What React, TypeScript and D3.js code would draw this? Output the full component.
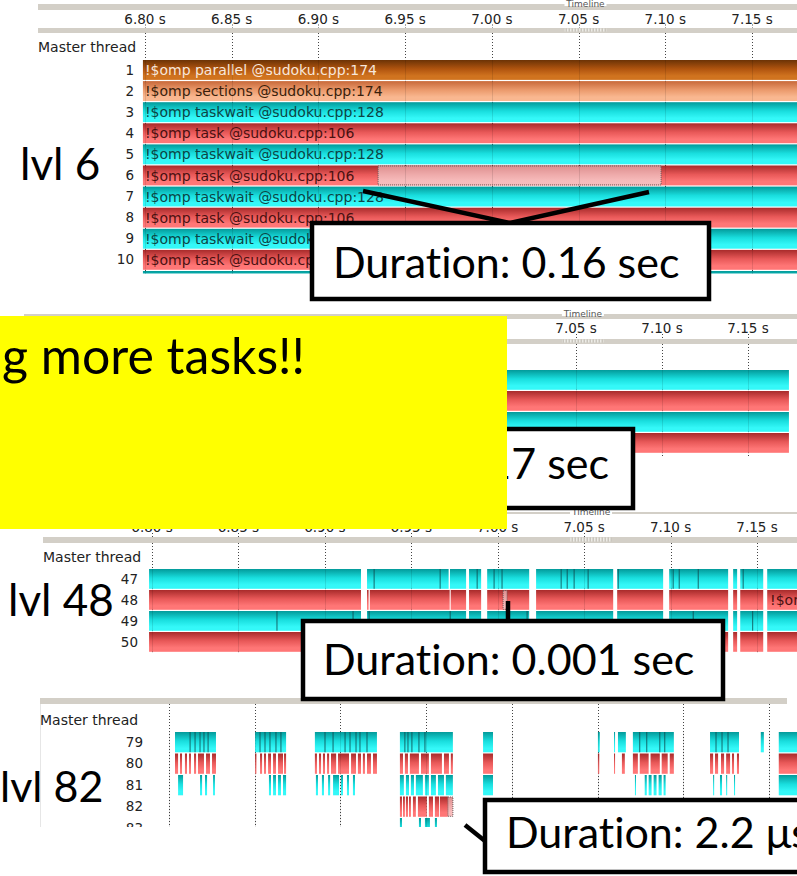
import React from "react";
import * as d3 from "d3";

const W = 797;
const H = 876;

// ---------- shared axis data (ms after 6.80 s) ----------
const tickMs = [0, 50, 100, 150, 200, 250, 300, 350];
const tickLabels = ["6.80 s", "6.85 s", "6.90 s", "6.95 s", "7.00 s", "7.05 s", "7.10 s", "7.15 s"];
const viewportMarkerMs = [242, 266];

// ---------- lvl 6 ----------
const lvl6Rows = ["1", "2", "3", "4", "5", "6", "7", "8", "9", "10", "11"];
const lvl6Kinds = ["parallel", "sections", "taskwait", "task", "taskwait", "task", "taskwait", "task", "taskwait", "task", "taskwait"];
const lvl6Regions = [
  "!$omp parallel @sudoku.cpp:174",
  "!$omp sections @sudoku.cpp:174",
  "!$omp taskwait @sudoku.cpp:128",
  "!$omp task @sudoku.cpp:106",
  "!$omp taskwait @sudoku.cpp:128",
  "!$omp task @sudoku.cpp:106",
  "!$omp taskwait @sudoku.cpp:128",
  "!$omp task @sudoku.cpp:106",
  "!$omp taskwait @sudoku.cpp:128",
  "!$omp task @sudoku.cpp:106",
  "!$omp taskwait @sudoku.cpp:128",
];
const lvl6SpanMs = [-1.2, 380];
const lvl6SelectedRow = 5;
const lvl6SelectedMs = [134.4, 297.6];

// ---------- hidden middle level ----------
const midRows = ["", "", "", ""];
const midKinds = ["taskwait", "task", "taskwait", "task"];
const midSpanMs = [-1.5, 373.8];

// ---------- lvl 48 ----------
const lvl48Rows = ["47", "48", "49", "50"];
const lvl48Kinds = ["taskwait", "task", "taskwait", "task"];
const lvl48SpanMs = [-1.7, 380];
const lvl48GapsMs = [
  [120.9, 124.4], [181.7, 183.4], [190.4, 193.9], [218.2, 222.2], [266.8, 269.1],
  [295.7, 299.2], [333.3, 336.2], [338.5, 340.3], [353.6, 355.9],
];
const lvl48RowGapsMs = [[[171.6, 172.4]], [[125.3, 126.0], [172.2, 172.8]], [], []];
const lvl48BoundariesMs = [
  [128.5, 166.7, 188.1, 197.9, 202.5, 236.7, 240.2, 244.2, 252.3, 269.7, 301.5, 305.0, 316.0, 342.0],
  [],
  [72.3, 116.3, 125.6, 172.5, 217.0, 313.1, 347.5],
  [],
];
const lvl48SelectedRow = 1;
const lvl48SelectedMs = [203.1, 205.4];
const lvl48LabelRow = 1;
const lvl48LabelMs = 356.4;
const lvl48LabelText = "!$omp task @sudoku.cpp:106";

// ---------- lvl 82 ----------
const lvl82Rows = ["79", "80", "81", "82", "83"];
const lvl82Kinds = ["taskwait", "task", "taskwait", "task", "taskwait"];
const lvl82Segments = [
  [[3.5, 27.4], [50.2, 68.3], [85.1, 121.3], [134.7, 165.6], [183.2, 189.0], [250.2, 251.3], [259.6, 260.2],
   [261.9, 266.5], [270.6, 294.5], [315.6, 332.5], [345.2, 347.0], [355.7, 368]],
  [[3.5, 5.3], [6.4, 7.6], [9.3, 10.5], [11.7, 12.8], [14.6, 15.8], [16.9, 20.4], [21.6, 23.9], [25.1, 27.4],
   [50.2, 51.0], [53.1, 54.3], [55.4, 56.6], [57.8, 59.5], [60.7, 62.4], [63.6, 66.5], [67.1, 68.3],
   [85.1, 86.3], [87.5, 88.7], [89.8, 91.0], [92.2, 93.4], [94.5, 97.5], [98.6, 105.0], [106.2, 109.1],
   [110.2, 112.0], [113.1, 114.3], [115.5, 117.8], [119.0, 121.3],
   [134.7, 136.5], [137.6, 139.4], [140.5, 145.8], [147.0, 151.6], [152.8, 159.2], [160.4, 163.3], [164.4, 165.6],
   [183.2, 189.0],
   [250.2, 251.0], [259.6, 260.2], [264.2, 265.9], [270.6, 273.5], [274.6, 279.8], [280.9, 286.3], [287.4, 290.9], [292.1, 294.5],
   [315.6, 317.4], [318.5, 320.3], [322.0, 323.8], [325.0, 327.3], [328.4, 329.6], [331.3, 332.5], [355.7, 368]],
  [[5.3, 8.2], [18.1, 19.3], [21.0, 22.2], [25.7, 26.8],
   [58.3, 59.5], [60.7, 62.4], [63.6, 65.3], [66.5, 68.3],
   [85.7, 86.9], [89.2, 90.4], [92.8, 94.0], [95.7, 99.2], [100.3, 101.5], [103.8, 105.0], [107.3, 108.5],
   [134.7, 137.0], [138.2, 140.0], [141.1, 142.9], [144.0, 148.1], [149.3, 151.6], [152.8, 155.7], [156.9, 160.4], [161.5, 165.6],
   [183.2, 189.0],
   [271.8, 272.4], [277.5, 278.7], [279.8, 281.5], [282.7, 284.4], [285.6, 287.4], [288.5, 289.7],
   [317.4, 318.0], [321.4, 322.6], [325.0, 325.6], [329.6, 330.2], [355.7, 368]],
  [[134.7, 135.9], [136.5, 137.6], [138.2, 139.4], [140.0, 141.1], [142.3, 144.0], [145.2, 150.4], [151.6, 154.0],
   [155.1, 157.5], [158.0, 162.7]],
  [[134.7, 135.9], [145.8, 147.0], [149.3, 152.2], [155.1, 156.3]],
];
const lvl82BoundariesMs = [
  [12.3, 15.2, 18.1, 20.4, 22.8, 53.1, 56.0, 58.9, 62.4, 65.3, 91.0, 95.7, 102.7, 105.6, 109.1, 111.4, 115.5,
   137.6, 139.4, 141.7, 145.8, 149.3, 274.6, 278.7, 286.3, 289.2, 319.1, 322.6, 326.1],
  [], [], [], [],
];
const lvl82SelectedRow = 3;
const lvl82SelectedMs = [162.7, 165.6];

// ---------- slide annotations ----------
const levelLabels = ["lvl 6", "lvl 48", "lvl 82"];
const durationTexts = ["Duration: 0.16 sec", "Duration: 0.17 sec", "Duration: 0.001 sec", "Duration: 2.2 μs"];
const bannerText = "g more tasks!!";

// ---------- styles ----------
const FONT_UI = "'DejaVu Sans', sans-serif";
const FONT_SLIDE = "Lato, 'Open Sans', sans-serif";
const GRAY = "#d3cfc7";
const NO_LIGA = { fontVariantLigatures: "none" as const };
const KIND_FILL: Record<string, string[]> = {
  parallel: ["#6c3306", "#b0540f", "#d0731f"],
  sections: ["#c8693a", "#eb9a6c", "#f9b790"],
  taskwait: ["#039a9a", "#19dede", "#34f8f8"],
  task: ["#a82b2b", "#e85858", "#ff7676"],
  selected: ["#dd9090", "#eeaaaa", "#f7bcbc"],
};
const KIND_TEXT: Record<string, string> = {
  parallel: "#f7e7dc",
  sections: "#3a1f0c",
  taskwait: "#0c4545",
  task: "#4a1111",
};
const KIND_LINE: Record<string, string> = {
  taskwait: "rgba(15,70,75,0.8)",
  task: "rgba(100,25,25,0.55)",
  parallel: "rgba(0,0,0,0.3)",
  sections: "rgba(0,0,0,0.3)",
};

function complement(span: number[], gaps: number[][]): number[][] {
  const sorted = gaps.slice().sort((a, b) => a[0] - b[0]);
  const out: number[][] = [];
  let cur = span[0];
  for (const [a, b] of sorted) {
    if (a > cur) out.push([cur, Math.min(a, span[1])]);
    cur = Math.max(cur, b);
  }
  if (cur < span[1]) out.push([cur, span[1]]);
  return out;
}

type PanelProps = {
  id: string;
  x: d3.ScaleLinear<number, number>;
  left: number;
  barRight: number;
  clipTop: number;
  clipBottom: number;
  topBarY: number;
  topBarH: number;
  tickLabelY: number | null;
  tickLabelMinX?: number;
  bottomBarY: number | null;
  bottomBarH: number;
  masterY: number | null;
  rowsTop: number;
  pitch: number;
  rowIds: string[];
  kinds: string[];
  segments: number[][][];
  boundaries?: number[][];
  regionLabels?: { row: number; ms: number; text: string }[];
  selected?: { row: number; ms: number[] };
  labelRight: number;
  gridTop: number;
  frame?: boolean;
};

function Panel(p: PanelProps) {
  const { x } = p;
  const clipId = `clip-${p.id}`;
  const legendX = x(d3.mean(viewportMarkerMs) as number);
  const rowsBottom = p.rowsTop + p.rowIds.length * p.pitch;
  const h = p.pitch - 1.2;
  const minX = p.tickLabelMinX ?? 0;
  return (
    <g>
      <defs>
        <clipPath id={clipId}>
          <rect x={p.left} y={p.clipTop} width={W - p.left} height={p.clipBottom - p.clipTop} />
        </clipPath>
      </defs>
      <g clipPath={`url(#${clipId})`}>
        {p.frame && (
          <line x1={p.left + 0.5} x2={p.left + 0.5} y1={p.topBarY} y2={p.clipBottom} stroke="#e6e6e6" strokeWidth={1} />
        )}
        {/* top bar with legend */}
        <rect x={p.left} y={p.topBarY} width={p.barRight - p.left} height={p.topBarH} fill={GRAY} />
        <rect x={legendX - 21} y={p.topBarY - 5} width={42} height={p.topBarH > 3 ? 7 : 8} fill="#fff" />
        <text x={legendX} y={p.topBarY + 3} textAnchor="middle" fontFamily={FONT_UI} fontSize={9} fill="#555">
          Timeline
        </text>
        {/* tick labels */}
        {p.tickLabelY !== null &&
          tickMs
            .map((t, i) => ({ t, label: tickLabels[i] }))
            .filter((d) => x(d.t) > minX)
            .map((d) => (
              <text key={d.t} x={x(d.t)} y={p.tickLabelY as number} textAnchor="middle" fontFamily={FONT_UI} fontSize={13.5} fill="#222">
                {d.label}
              </text>
            ))}
        {/* bottom bar + viewport marker */}
        {p.bottomBarY !== null && (
          <g>
            <rect x={p.left} y={p.bottomBarY} width={p.barRight - p.left} height={p.bottomBarH} fill={GRAY} />
            <rect
              x={x(viewportMarkerMs[0])}
              y={p.bottomBarY + 0.5}
              width={x(viewportMarkerMs[1]) - x(viewportMarkerMs[0])}
              height={Math.max(1, p.bottomBarH - 2)}
              fill="url(#hatch)"
            />
          </g>
        )}
        {p.masterY !== null && (
          <text x={p.left} y={p.masterY} fontFamily={FONT_UI} fontSize={14} fill="#222">
            Master thread
          </text>
        )}
        {/* dotted grid */}
        {tickMs.map((t) => (
          <line
            key={t}
            x1={Math.round(x(t)) + 0.5}
            x2={Math.round(x(t)) + 0.5}
            y1={p.gridTop}
            y2={p.clipBottom}
            stroke="#444"
            strokeWidth={1}
            strokeDasharray="1,2"
          />
        ))}
        {p.tickLabelY !== null && p.bottomBarY !== null &&
          tickMs.map((t) => (
            <line
              key={`s${t}`}
              x1={Math.round(x(t)) + 0.5}
              x2={Math.round(x(t)) + 0.5}
              y1={(p.tickLabelY as number) + 1}
              y2={p.bottomBarY as number}
              stroke="#444"
              strokeWidth={1}
              strokeDasharray="1,2"
            />
          ))}
        {/* rows */}
        {p.rowIds.map((id, i) => {
          const top = p.rowsTop + i * p.pitch;
          const kind = p.kinds[i];
          return (
            <g key={`r${i}`}>
              {id && (
                <text x={p.labelRight} y={top + 14.5} textAnchor="end" fontFamily={FONT_UI} fontSize={13.5} fill="#222">
                  {id}
                </text>
              )}
              {p.segments[i].map(([a, b], j) => (
                <rect
                  key={j}
                  x={x(a)}
                  y={top}
                  width={Math.max(0.9, x(b) - x(a))}
                  height={h}
                  fill={`url(#grad-${kind})`}
                />
              ))}
              {(p.boundaries?.[i] ?? []).map((t, j) => (
                <line key={`b${j}`} x1={x(t)} x2={x(t)} y1={top} y2={top + h} stroke={KIND_LINE[kind]} strokeWidth={1} />
              ))}
              {p.selected && p.selected.row === i && (
                <rect
                  x={x(p.selected.ms[0])}
                  y={top + 0.5}
                  width={x(p.selected.ms[1]) - x(p.selected.ms[0])}
                  height={h - 1}
                  fill="url(#grad-selected)"
                  stroke="#6a5a5a"
                  strokeWidth={1}
                  strokeDasharray="1,1"
                />
              )}
              {(p.regionLabels ?? [])
                .filter((r) => r.row === i)
                .map((r, j) => (
                  <text
                    key={`t${j}`}
                    x={x(r.ms) + 2}
                    y={top + 15}
                    fontFamily={FONT_UI}
                    fontSize={14}
                    fill={KIND_TEXT[kind]}
                  >
                    {r.text}
                  </text>
                ))}
            </g>
          );
        })}
        {/* faint grid over bars */}
        {tickMs.map((t) => (
          <line
            key={`f${t}`}
            x1={Math.round(x(t)) + 0.5}
            x2={Math.round(x(t)) + 0.5}
            y1={p.rowsTop}
            y2={Math.min(rowsBottom, p.clipBottom)}
            stroke="rgba(0,0,0,0.10)"
            strokeWidth={1}
          />
        ))}
      </g>
    </g>
  );
}

export default function App() {
  const x1 = d3.scaleLinear().domain([0, 350]).range([145, 752]);
  const x2 = d3.scaleLinear().domain([0, 350]).range([146, 748]);
  const x3 = d3.scaleLinear().domain([0, 350]).range([152, 757]);
  const x4 = d3.scaleLinear().domain([0, 350]).range([169, 769]);

  const lvl6Segments = lvl6Rows.map(() => [lvl6SpanMs]);
  const midSegments = midRows.map(() => [midSpanMs]);
  const lvl48Segments = lvl48Rows.map((_, i) => complement(lvl48SpanMs, lvl48GapsMs.concat(lvl48RowGapsMs[i])));

  const calloutStroke = 4.5;
  const calloutFont = 43;

  return (
    <svg
      width={W}
      height={H}
      viewBox={`0 0 ${W} ${H}`}
      style={{ position: "absolute", left: 0, top: 0, background: "#fff" }}
    >
      <defs>
        {Object.entries(KIND_FILL).map(([k, c]) => (
          <linearGradient key={k} id={`grad-${k}`} x1="0" y1="0" x2="0" y2="1">
            <stop offset="0" stopColor={c[0]} />
            <stop offset="0.45" stopColor={c[1]} />
            <stop offset="0.8" stopColor={c[2]} />
            <stop offset="1" stopColor={c[2]} />
          </linearGradient>
        ))}
        <pattern id="hatch" width="3" height="4" patternUnits="userSpaceOnUse">
          <rect width="3" height="4" fill="#c9c5bd" />
          <rect width="1.5" height="4" fill="#ecebe6" />
        </pattern>
      </defs>
      <rect x={0} y={0} width={W} height={H} fill="#fff" />

      {/* lvl 6 */}
      <Panel
        id="p1"
        x={x1}
        left={38}
        barRight={W}
        clipTop={0}
        clipBottom={273.5}
        topBarY={4}
        topBarH={6}
        tickLabelY={23.5}
        bottomBarY={28}
        bottomBarH={5}
        masterY={52}
        rowsTop={60}
        pitch={21.1}
        rowIds={lvl6Rows}
        kinds={lvl6Kinds}
        segments={lvl6Segments}
        regionLabels={lvl6Regions.map((t, i) => ({ row: i, ms: lvl6SpanMs[0], text: t }))}
        selected={{ row: lvl6SelectedRow, ms: lvl6SelectedMs }}
        labelRight={134}
        gridTop={33}
      />

      {/* hidden middle level */}
      <Panel
        id="p2"
        x={x2}
        left={24}
        barRight={W}
        clipTop={305}
        clipBottom={456}
        topBarY={314}
        topBarH={5}
        tickLabelY={333}
        tickLabelMinX={520}
        bottomBarY={339}
        bottomBarH={5}
        masterY={null}
        rowsTop={370}
        pitch={21}
        rowIds={midRows}
        kinds={midKinds}
        segments={midSegments}
        labelRight={134}
        gridTop={344}
      />

      {/* lvl 48 */}
      <Panel
        id="p3"
        x={x3}
        left={43}
        barRight={W}
        clipTop={505}
        clipBottom={654}
        topBarY={512}
        topBarH={2}
        tickLabelY={532}
        bottomBarY={537}
        bottomBarH={6}
        masterY={562}
        rowsTop={569}
        pitch={21}
        rowIds={lvl48Rows}
        kinds={lvl48Kinds}
        segments={lvl48Segments}
        boundaries={lvl48BoundariesMs}
        regionLabels={[{ row: lvl48LabelRow, ms: lvl48LabelMs, text: lvl48LabelText }]}
        selected={{ row: lvl48SelectedRow, ms: lvl48SelectedMs }}
        labelRight={138}
        gridTop={543}
      />

      {/* lvl 82 */}
      <Panel
        id="p4"
        x={x4}
        left={40}
        barRight={787}
        clipTop={690}
        clipBottom={827}
        topBarY={698}
        topBarH={6}
        tickLabelY={null}
        bottomBarY={null}
        bottomBarH={0}
        masterY={725}
        rowsTop={732}
        pitch={21.5}
        rowIds={lvl82Rows}
        kinds={lvl82Kinds}
        segments={lvl82Segments}
        boundaries={lvl82BoundariesMs}
        selected={{ row: lvl82SelectedRow, ms: lvl82SelectedMs }}
        labelRight={143}
        gridTop={704}
        frame
      />

      {/* level labels */}
      <text x={20} y={180} fontFamily={FONT_SLIDE} fontSize={44} fill="#000">{levelLabels[0]}</text>
      <text x={8} y={616} fontFamily={FONT_SLIDE} fontSize={44} fill="#000">{levelLabels[1]}</text>
      <text x={0} y={802} fontFamily={FONT_SLIDE} fontSize={43} fill="#000">{levelLabels[2]}</text>

      {/* callout 1 */}
      <polyline points="363,191 510,223 649,192" fill="none" stroke="#000" strokeWidth={calloutStroke} />
      <rect x={312} y={223} width={397} height={76} fill="#fff" stroke="#000" strokeWidth={calloutStroke} />
      <text x={333} y={278} fontFamily={FONT_SLIDE} fontSize={calloutFont} fill="#000" style={NO_LIGA}>{durationTexts[0]}</text>

      {/* callout 2 (mostly hidden) */}
      <rect x={200} y={429} width={433} height={79} fill="#fff" stroke="#000" strokeWidth={calloutStroke} />
      <text x={609} y={479} textAnchor="end" fontFamily={FONT_SLIDE} fontSize={calloutFont} fill="#000" style={NO_LIGA}>{durationTexts[1]}</text>

      {/* callout 3 */}
      <line x1={508} x2={508} y1={601} y2={622} stroke="#000" strokeWidth={calloutStroke} />
      <rect x={303} y={621} width={420} height={78} fill="#fff" stroke="#000" strokeWidth={calloutStroke} />
      <text x={323} y={675} fontFamily={FONT_SLIDE} fontSize={calloutFont} fill="#000" style={NO_LIGA}>{durationTexts[2]}</text>

      {/* callout 4 */}
      <line x1={465} y1={825} x2={485} y2={841} stroke="#000" strokeWidth={calloutStroke} />
      <rect x={485} y={800} width={340} height={72} fill="#fff" stroke="#000" strokeWidth={calloutStroke} />
      <text x={506} y={848} fontFamily={FONT_SLIDE} fontSize={calloutFont} fill="#000" style={NO_LIGA}>{durationTexts[3]}</text>

      {/* yellow banner */}
      <rect x={0} y={316} width={507} height={213} fill="#ffff00" />
      <text x={305} y={374} textAnchor="end" fontFamily={FONT_SLIDE} fontSize={50} fill="#000">{bannerText}</text>
    </svg>
  );
}
